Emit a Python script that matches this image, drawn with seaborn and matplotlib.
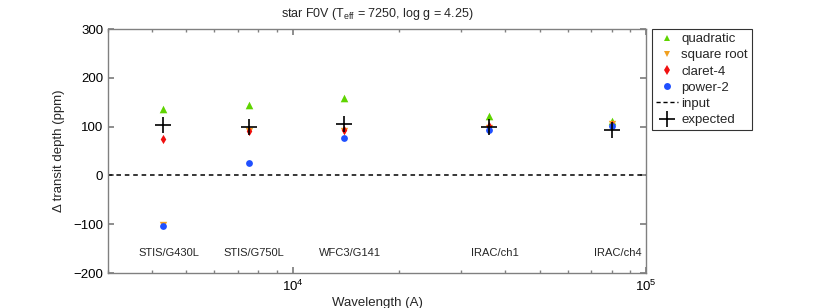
import matplotlib
matplotlib.use("Agg")
import matplotlib.pyplot as plt
from matplotlib.lines import Line2D
import numpy as np
import pandas as pd
import seaborn as sns

# band centres (Angstrom) and labels
wavelength = [4300, 7500, 14000, 36000, 80000]
band_labels = ["STIS/G430L", "STIS/G750L", "WFC3/G141", "IRAC/ch1", "IRAC/ch4"]

# delta transit depth (ppm) per limb-darkening law
quadratic = [137, 145, 158, 122, 112]
square_root = [-101, 90, 90, 97, 106]
claret_4 = [75, 91, 94, 101, 103]
power_2 = [-103, 26, 77, 94, 101]
expected = [104, 100, 105, 100, 93]
input_level = 0

models = ["quadratic", "square root", "claret-4", "power-2"]
colors = {"quadratic": "#5fd400", "square root": "#f0a020",
          "claret-4": "#f01010", "power-2": "#2050ff"}
markers = {"quadratic": "^", "square root": "v", "claret-4": "d", "power-2": "o"}
sizes = {"quadratic": 30, "square root": 28, "claret-4": 22, "power-2": 24}

df = pd.DataFrame({
    "wavelength": wavelength * 4,
    "depth": quadratic + square_root + claret_4 + power_2,
    "model": [m for m in models for _ in wavelength],
})

sns.set_theme(style="ticks")
plt.rcParams["font.family"] = ["Liberation Sans", "DejaVu Sans"]
plt.rcParams["mathtext.default"] = "regular"

fig, ax = plt.subplots(figsize=(8.3, 3.08), dpi=100)
fig.subplots_adjust(left=108 / 830, right=646 / 830, top=1 - 29 / 308, bottom=1 - 273 / 308)

for m in models:
    sns.scatterplot(data=df[df["model"] == m], x="wavelength", y="depth", ax=ax,
                    color=colors[m], marker=markers[m], s=sizes[m], linewidth=0,
                    legend=False, zorder=3)

ax.axhline(input_level, color="black", linestyle="--", linewidth=1.1, dashes=(3, 2.5), zorder=2)
sns.scatterplot(x=wavelength, y=expected, ax=ax, color="black", marker="+", s=130,
                linewidth=1.2, legend=False, zorder=4)

for wl, lab in zip(wavelength, band_labels):
    ax.annotate(lab, xy=(wl, -160), xytext=(4, 0), textcoords="offset points",
                ha="center", va="center", fontsize=8)

ax.set_xscale("log")
ax.set_xlim(3000, 1e5)
ax.set_ylim(-200, 300)
ax.set_yticks([-200, -100, 0, 100, 200, 300])
ax.set_xlabel("Wavelength (A)", fontsize=9.5, labelpad=2)
ax.set_ylabel("Δ transit depth (ppm)", fontsize=9.5, labelpad=6)
ax.set_title("star F0V (T$_{eff}$ = 7250, log g = 4.25)", fontsize=9, pad=9)

for sp in ax.spines.values():
    sp.set_visible(True)
    sp.set_color("#808080")
    sp.set_linewidth(1.0)
ax.tick_params(which="both", direction="in", top=True, right=True, color="#808080",
               labelsize=9.5, labelcolor="black")
ax.tick_params(which="major", length=4)
ax.tick_params(which="minor", length=2.5)
ax.tick_params(axis="x", pad=4)

handles = [Line2D([], [], linestyle="none", marker=markers[m], color=colors[m],
                  markersize=5, markeredgewidth=0) for m in models]
handles.append(Line2D([], [], color="black", linestyle="--", linewidth=1.0, dashes=(3, 2)))
handles.append(Line2D([], [], linestyle="none", marker="+", color="black",
                      markersize=11, markeredgewidth=1.2))
leg = ax.legend(handles, models + ["input", "expected"], loc="upper left",
                bbox_to_anchor=(1.012, 1.0), fontsize=9.5, frameon=True, fancybox=False,
                handlelength=1.6, handletextpad=0.3, borderpad=0.3, labelspacing=0.3,
                borderaxespad=0)
leg.get_frame().set_edgecolor("black")
leg.get_frame().set_linewidth(0.8)

fig.savefig("out.png", dpi=100)
